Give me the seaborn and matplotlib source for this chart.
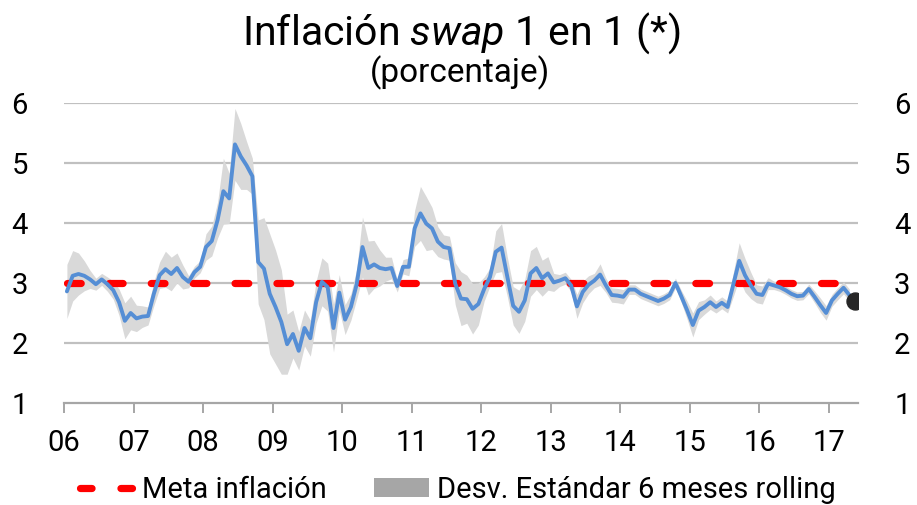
import numpy as np
import pandas as pd
import matplotlib
matplotlib.use("Agg")
import matplotlib.pyplot as plt
from matplotlib.lines import Line2D
from matplotlib.patches import Patch
import seaborn as sns

# Monthly 1y1y inflation swap, Jan-2006 .. Apr-2017 (percent)
swap = [
    2.86, 3.12, 3.15, 3.12, 3.06, 2.98, 3.06, 2.98, 2.88, 2.68, 2.37, 2.50,
    2.41, 2.44, 2.45, 2.82, 3.13, 3.23, 3.15, 3.25, 3.10, 3.02, 3.18, 3.27,
    3.60, 3.70, 4.05, 4.53, 4.41, 5.31, 5.11, 4.96, 4.78, 3.35, 3.24, 2.82,
    2.60, 2.35, 1.98, 2.15, 1.87, 2.25, 2.08, 2.68, 3.02, 2.93, 2.25, 2.84,
    2.39, 2.60, 2.98, 3.60, 3.25, 3.31, 3.25, 3.23, 3.25, 2.95, 3.27, 3.27,
    3.91, 4.16, 3.99, 3.91, 3.69, 3.60, 3.58, 2.99, 2.74, 2.73, 2.57, 2.65,
    2.90, 3.10, 3.52, 3.59, 3.10, 2.62, 2.52, 2.71, 3.16, 3.25, 3.08, 3.16,
    3.01, 3.04, 3.08, 2.96, 2.61, 2.85, 2.97, 3.04, 3.14, 2.96, 2.80, 2.79,
    2.77, 2.89, 2.89, 2.82, 2.78, 2.74, 2.70, 2.74, 2.80, 3.00, 2.78, 2.55,
    2.30, 2.54, 2.60, 2.68, 2.60, 2.67, 2.60, 2.98, 3.37, 3.13, 2.96, 2.82,
    2.80, 2.99, 2.96, 2.93, 2.88, 2.82, 2.78, 2.79, 2.90, 2.77, 2.63, 2.50,
    2.71, 2.82, 2.92, 2.80,
]

# 6-month rolling standard deviation around the swap (percentage points)
desv = [
    0.45, 0.42, 0.35, 0.25, 0.15, 0.10, 0.10, 0.12, 0.15, 0.22, 0.30, 0.28,
    0.22, 0.18, 0.15, 0.20, 0.22, 0.30, 0.28, 0.25, 0.20, 0.10, 0.10, 0.10,
    0.22, 0.25, 0.30, 0.55, 0.42, 0.60, 0.55, 0.40, 0.30, 0.70, 0.85, 1.00,
    0.95, 0.87, 0.50, 0.40, 0.32, 0.30, 0.30, 0.35, 0.40, 0.40, 0.40, 0.30,
    0.25, 0.22, 0.25, 0.50, 0.45, 0.40, 0.30, 0.20, 0.18, 0.10, 0.12, 0.15,
    0.30, 0.45, 0.45, 0.35, 0.25, 0.20, 0.20, 0.35, 0.45, 0.40, 0.42, 0.35,
    0.20, 0.15, 0.35, 0.40, 0.33, 0.32, 0.36, 0.35, 0.38, 0.36, 0.30, 0.28,
    0.15, 0.10, 0.10, 0.10, 0.20, 0.18, 0.15, 0.12, 0.18, 0.12, 0.12, 0.12,
    0.12, 0.08, 0.08, 0.08, 0.08, 0.08, 0.08, 0.08, 0.08, 0.08, 0.10, 0.15,
    0.20, 0.15, 0.12, 0.12, 0.10, 0.10, 0.10, 0.20, 0.30, 0.28, 0.22, 0.15,
    0.15, 0.10, 0.07, 0.07, 0.07, 0.07, 0.07, 0.07, 0.08, 0.10, 0.12, 0.12,
    0.10, 0.10, 0.10, 0.10,
]

meta = 3.0                 # inflation target
ultimo_valor = 2.70        # latest observation (May-2017)
years = list(range(2006, 2018))
year_labels = [f"{y % 100:02d}" for y in years]
y_ticks = [1, 2, 3, 4, 5, 6]

# Monthly points sit in the middle of each month
fechas = pd.date_range("2006-01-01", periods=len(swap), freq="MS")
df = pd.DataFrame({
    "t": fechas.year + (fechas.month - 0.5) / 12.0,
    "swap": swap,
    "desv": desv,
})
df["meta"] = meta
t_ultimo = 2017 + (5 - 0.5) / 12.0

sns.set_theme(style="white")
FONT = ["Roboto", "DejaVu Sans"]
plt.rcParams["font.family"] = FONT
plt.rcParams["mathtext.fontset"] = "custom"
plt.rcParams["mathtext.it"] = "Roboto:italic"
plt.rcParams["mathtext.rm"] = "Roboto"
plt.rcParams["text.color"] = "black"
plt.rcParams["xtick.color"] = "black"
plt.rcParams["ytick.color"] = "black"

W, H = 917, 505
fig = plt.figure(figsize=(W / 100, H / 100), dpi=100)
ax = fig.add_axes([64 / W, 1 - 403 / H, (858 - 64) / W, 300 / H])

BLUE = "#558ed5"
BAND = "#d9d9d9"
GRID = "#c0c0c0"
RED = "#ff0000"
RED_DASH = (1.9, 3.9)

ax.fill_between(df["t"], df["swap"] - df["desv"], df["swap"] + df["desv"],
                color=BAND, lw=0, zorder=1)
ax.plot(df["t"], df["meta"], color=RED, lw=5.2, dashes=RED_DASH,
        dash_capstyle="round", zorder=3)
sns.lineplot(data=df, x="t", y="swap", ax=ax, color=BLUE, lw=2.8, zorder=4)
sns.scatterplot(x=[t_ultimo], y=[ultimo_valor], ax=ax, s=150, color="#262626",
                edgecolor="#262626", zorder=5)

ax.set_xlim(2006, 2006 + 137 / 12.0)
ax.set_ylim(1, 6)
ax.set_yticks(y_ticks)
ax.set_xticks(years)
ax.set_xticklabels(year_labels)
ax.set_xlabel("")
ax.set_ylabel("")

for v in y_ticks[1:]:
    ax.axhline(v, color=GRID, lw=1.6, zorder=0)

for s in ["top", "right", "left"]:
    ax.spines[s].set_visible(False)
ax.spines["bottom"].set_color("#a6a6a6")
ax.spines["bottom"].set_linewidth(1.6)

ax.tick_params(axis="x", direction="out", length=7, width=1.4, color="#a6a6a6",
               labelcolor="black", labelsize=21, pad=12, bottom=True)
ax.tick_params(axis="y", length=0, labelsize=21, left=False, right=False,
               labelcolor="black", labelleft=True, labelright=False, pad=26)

# Same scale repeated on the right-hand side
ax_r = ax.twinx()
ax_r.set_ylim(ax.get_ylim())
ax_r.set_yticks(y_ticks)
ax_r.tick_params(axis="y", length=0, labelsize=21, right=False,
                 labelcolor="black", pad=26)
ax_r.grid(False)
for s in ax_r.spines.values():
    s.set_visible(False)

fig.text(0.503, 0.935, r"Inflación $\mathit{swap}$ 1 en 1 (*)", ha="center",
         va="center", fontsize=29.5, color="black")
fig.text(0.502, 0.855, "(porcentaje)", ha="center", va="center", fontsize=24,
         color="black")

handles = [
    Line2D([], [], color=RED, lw=5.2, dashes=(1.6, 4.0),
           dash_capstyle="round"),
    Patch(facecolor="#a6a6a6", edgecolor="none"),
]
labels = ["Meta inflación", "Desv. Estándar 6 meses rolling"]
fig.legend(handles, labels, loc="center", bbox_to_anchor=(0.499, 0.03),
           ncol=2, frameon=False, fontsize=21, handlelength=1.9,
           handleheight=0.58, handletextpad=0.25, columnspacing=1.6,
           borderpad=0.0, labelcolor="black")

fig.savefig("out.png", dpi=100)
